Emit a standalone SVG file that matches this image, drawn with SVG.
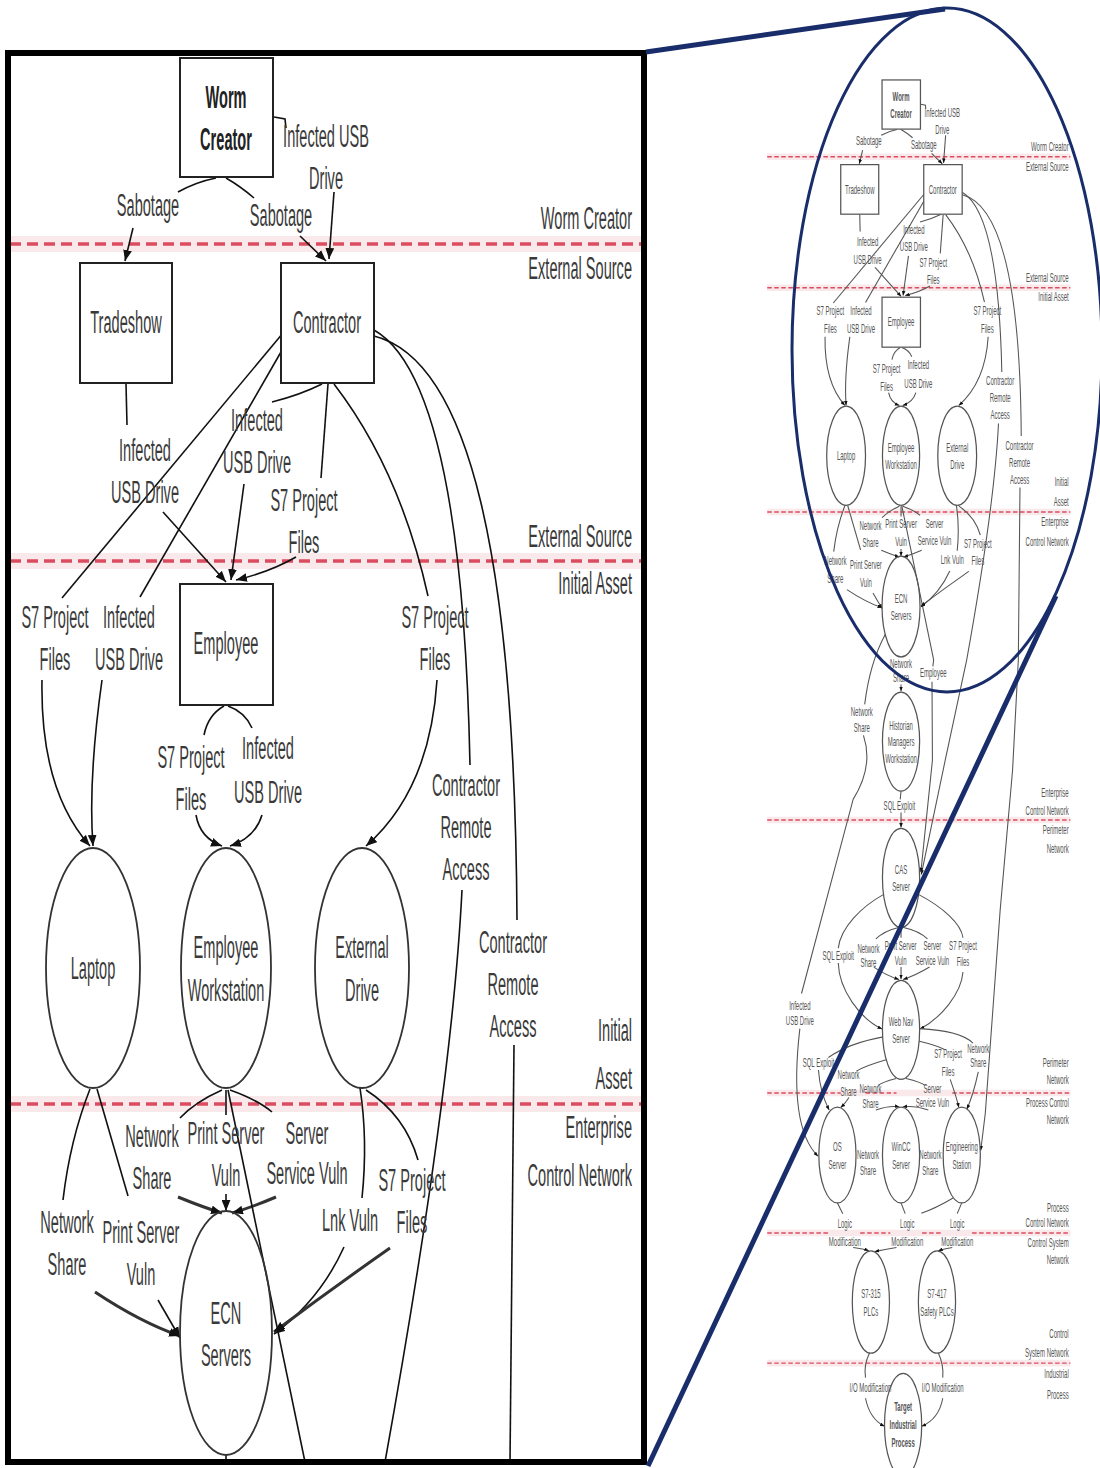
<svg xmlns="http://www.w3.org/2000/svg" width="1100" height="1468" viewBox="0 0 1100 1468">
<defs>
<marker id="ah" viewBox="0 0 10 8" refX="10" refY="4" markerWidth="11" markerHeight="9" markerUnits="userSpaceOnUse" orient="auto">
<path d="M0,0 L10,4 L0,8 z" fill="#111"/>
</marker>
<clipPath id="frameClip"><rect x="8" y="53" width="636" height="1409"/></clipPath>
</defs>
<style>
text{font-family:"Liberation Sans",Arial,sans-serif;font-size:31px;fill:#3a3a3a;text-anchor:middle}
.lv{text-anchor:end}
.bold{font-weight:bold;fill:#222}
.nb{fill:#fff;stroke:#222;stroke-width:2}
.ne{fill:#fff;stroke:#333;stroke-width:1.8}
.cn{fill:none;stroke:#111;stroke-width:1.6}
.thk{stroke-width:3;stroke:#333}
.halo{stroke:#f4cfd5;stroke-width:16;opacity:.45}
.dash{stroke:#dc4c60;stroke-width:3.5;stroke-dasharray:11 6}
.mini .cn{stroke:#555;stroke-width:2.6}
.mini .nb,.mini .ne{stroke:#555;stroke-width:3}
.mini text{fill:#555}
.navy{fill:none;stroke:#1a2d6b}
</style>
<rect width="1100" height="1468" fill="#fff"/>

<!-- ===== zoomed panel ===== -->
<g id="zoom-panel" clip-path="url(#frameClip)">
<g id="levels">
<line class="halo" x1="10" y1="244" x2="642" y2="244"/>
<line class="halo" x1="10" y1="561" x2="642" y2="561"/>
<line class="halo" x1="10" y1="1104" x2="642" y2="1104"/>
<line class="dash" x1="10" y1="244" x2="642" y2="244"/>
<line class="dash" x1="10" y1="561" x2="642" y2="561"/>
<line class="dash" x1="10" y1="1104" x2="642" y2="1104"/>
<text class="lv" transform="translate(632 229) scale(.47 1)">Worm Creator</text>
<text class="lv" transform="translate(632 279) scale(.47 1)">External Source</text>
<text class="lv" transform="translate(632 547) scale(.47 1)">External Source</text>
<text class="lv" transform="translate(632 594) scale(.47 1)">Initial Asset</text>
<text class="lv" transform="translate(632 1041) scale(.47 1)"><tspan x="0">Initial</tspan><tspan x="0" dy="48">Asset</tspan><tspan x="0" dy="49">Enterprise</tspan><tspan x="0" dy="48">Control Network</tspan></text>
</g>

<g id="connectors">
<path class="cn" d="M216,178 Q196,182 178,192"/>
<path class="cn" marker-end="url(#ah)" d="M133,228 L125,261"/>
<path class="cn" d="M226,178 Q240,186 254,198"/>
<path class="cn" marker-end="url(#ah)" d="M300,236 L326,261"/>
<path class="cn" d="M274,117 L285,119 L286,128"/>
<path class="cn" marker-end="url(#ah)" d="M334,192 L329,259"/>
<path class="cn" d="M126,384 L127,425"/>
<path class="cn" marker-end="url(#ah)" d="M163,512 L226,582"/>
<path class="cn" d="M322,384 Q300,395 272,402"/>
<path class="cn" marker-end="url(#ah)" d="M244,484 L231,580"/>
<path class="cn" d="M328,384 L321,478"/>
<path class="cn" marker-end="url(#ah)" d="M296,557 Q270,572 236,580"/>
<path class="cn" d="M283,333 L62,598"/>
<path class="cn" marker-end="url(#ah)" d="M42,680 Q40,790 90,846"/>
<path class="cn" d="M285,345 L140,597"/>
<path class="cn" marker-end="url(#ah)" d="M102,680 Q88,780 93,846"/>
<path class="cn" d="M334,384 Q400,470 428,596"/>
<path class="cn" marker-end="url(#ah)" d="M437,680 Q430,790 366,846"/>
<path class="cn" d="M374,330 Q462,380 470,765"/>
<path class="cn" d="M462,890 Q452,1090 385,1462"/>
<path class="cn" d="M374,336 C470,360 515,560 517,920"/>
<path class="cn" d="M514,1045 L510,1462"/>
<path class="cn" d="M224,706 Q208,715 204,735"/>
<path class="cn" d="M228,706 Q245,712 252,728"/>
<path class="cn" marker-end="url(#ah)" d="M196,815 Q200,838 222,846"/>
<path class="cn" marker-end="url(#ah)" d="M262,815 Q255,838 230,846"/>
<path class="cn" d="M90,1089 Q70,1140 63,1200"/>
<path class="cn" d="M97,1089 L128,1196"/>
<path class="cn thk" marker-end="url(#ah)" d="M95,1292 Q140,1322 180,1336"/>
<path class="cn" marker-end="url(#ah)" d="M158,1300 L180,1338"/>
<path class="cn" d="M222,1090 Q195,1102 180,1118"/>
<path class="cn" d="M226,1090 L226,1115"/>
<path class="cn" d="M230,1090 Q258,1100 272,1112"/>
<path class="cn thk" marker-end="url(#ah)" d="M178,1197 Q205,1208 222,1213"/>
<path class="cn" marker-end="url(#ah)" d="M226,1194 L226,1211"/>
<path class="cn thk" marker-end="url(#ah)" d="M276,1197 Q250,1208 232,1213"/>
<path class="cn" d="M228,1090 L305,1462"/>
<path class="cn" d="M360,1088 Q368,1140 362,1198"/>
<path class="cn" d="M366,1090 Q405,1115 418,1160"/>
<path class="cn" marker-end="url(#ah)" d="M344,1247 Q320,1300 274,1334"/>
<path class="cn thk" marker-end="url(#ah)" d="M390,1248 Q330,1290 274,1332"/>
<path class="cn" d="M226,1455 L226,1462"/>
</g>

<g id="node-worm-creator"><rect class="nb" x="180" y="58" width="93" height="119"/>
<text class="bold" transform="translate(226 108) scale(.47 1)"><tspan x="0">Worm</tspan><tspan x="0" dy="42">Creator</tspan></text></g>
<g id="node-tradeshow"><rect class="nb" x="80" y="263" width="92" height="120"/>
<text transform="translate(126 333) scale(.47 1)">Tradeshow</text></g>
<g id="node-contractor"><rect class="nb" x="281" y="263" width="93" height="120"/>
<text transform="translate(327 333) scale(.47 1)">Contractor</text></g>
<g id="node-employee"><rect class="nb" x="180" y="584" width="93" height="121"/>
<text transform="translate(226 654) scale(.47 1)">Employee</text></g>
<g id="node-laptop"><ellipse class="ne" cx="93" cy="968" rx="47" ry="120"/>
<text transform="translate(93 979) scale(.47 1)">Laptop</text></g>
<g id="node-employee-workstation"><ellipse class="ne" cx="226" cy="968" rx="45" ry="120"/>
<text transform="translate(226 958) scale(.47 1)"><tspan x="0">Employee</tspan><tspan x="0" dy="43">Workstation</tspan></text></g>
<g id="node-external-drive"><ellipse class="ne" cx="362" cy="968" rx="47" ry="120"/>
<text transform="translate(362 958) scale(.47 1)"><tspan x="0">External</tspan><tspan x="0" dy="43">Drive</tspan></text></g>
<g id="node-ecn-servers"><ellipse class="ne" cx="226" cy="1333" rx="46" ry="122" fill="none" style="fill:none"/>
<text transform="translate(226 1324) scale(.47 1)"><tspan x="0">ECN</tspan><tspan x="0" dy="42">Servers</tspan></text></g>

<g id="edge-labels">
<text transform="translate(326 147) scale(.47 1)"><tspan x="0">Infected USB</tspan><tspan x="0" dy="42">Drive</tspan></text>
<text transform="translate(148 216) scale(.47 1)">Sabotage</text>
<text transform="translate(281 226) scale(.47 1)">Sabotage</text>
<text transform="translate(145 461) scale(.47 1)"><tspan x="0">Infected</tspan><tspan x="0" dy="42">USB Drive</tspan></text>
<text transform="translate(257 431) scale(.47 1)"><tspan x="0">Infected</tspan><tspan x="0" dy="42">USB Drive</tspan></text>
<text transform="translate(304 511) scale(.47 1)"><tspan x="0">S7 Project</tspan><tspan x="0" dy="42">Files</tspan></text>
<text transform="translate(55 628) scale(.47 1)"><tspan x="0">S7 Project</tspan><tspan x="0" dy="42">Files</tspan></text>
<text transform="translate(129 628) scale(.47 1)"><tspan x="0">Infected</tspan><tspan x="0" dy="42">USB Drive</tspan></text>
<text transform="translate(435 628) scale(.47 1)"><tspan x="0">S7 Project</tspan><tspan x="0" dy="42">Files</tspan></text>
<text transform="translate(191 768) scale(.47 1)"><tspan x="0">S7 Project</tspan><tspan x="0" dy="42">Files</tspan></text>
<text transform="translate(268 759) scale(.47 1)"><tspan x="0">Infected</tspan><tspan x="0" dy="44">USB Drive</tspan></text>
<text transform="translate(466 796) scale(.47 1)"><tspan x="0">Contractor</tspan><tspan x="0" dy="42">Remote</tspan><tspan x="0" dy="42">Access</tspan></text>
<text transform="translate(513 953) scale(.47 1)"><tspan x="0">Contractor</tspan><tspan x="0" dy="42">Remote</tspan><tspan x="0" dy="42">Access</tspan></text>
<text transform="translate(152 1147) scale(.47 1)"><tspan x="0">Network</tspan><tspan x="0" dy="42">Share</tspan></text>
<text transform="translate(226 1144) scale(.47 1)"><tspan x="0">Print Server</tspan><tspan x="0" dy="42">Vuln</tspan></text>
<text transform="translate(307 1144) scale(.47 1)"><tspan x="0">Server</tspan><tspan x="0" dy="40">Service Vuln</tspan></text>
<text transform="translate(412 1191) scale(.47 1)"><tspan x="0">S7 Project</tspan><tspan x="0" dy="42">Files</tspan></text>
<text transform="translate(350 1231) scale(.47 1)">Lnk Vuln</text>
<text transform="translate(67 1233) scale(.47 1)"><tspan x="0">Network</tspan><tspan x="0" dy="42">Share</tspan></text>
<text transform="translate(141 1243) scale(.47 1)"><tspan x="0">Print Server</tspan><tspan x="0" dy="42">Vuln</tspan></text>
</g>
</g>
<rect id="zoom-frame" x="8" y="53" width="636" height="1409" fill="none" stroke="#000" stroke-width="6"/>

<!-- ===== full overview graph ===== -->
<g id="overview" class="mini" transform="translate(807.7 56) scale(0.413)">
<g id="m-levels">
<g>
<line class="halo" x1="-98" y1="244" x2="636" y2="244"/>
<line class="halo" x1="-98" y1="561" x2="636" y2="561"/>
<line class="halo" x1="-98" y1="1104" x2="636" y2="1104"/>
<line class="halo" x1="-98" y1="1850" x2="636" y2="1850"/>
<line class="halo" x1="-98" y1="2511" x2="636" y2="2511"/>
<line class="halo" x1="-98" y1="2850" x2="636" y2="2850"/>
<line class="halo" x1="-98" y1="3165" x2="636" y2="3165"/>
</g>
<line class="dash" x1="-98" y1="244" x2="636" y2="244"/>
<line class="dash" x1="-98" y1="561" x2="636" y2="561"/>
<line class="dash" x1="-98" y1="1104" x2="636" y2="1104"/>
<line class="dash" x1="-98" y1="1850" x2="636" y2="1850"/>
<path class="dash" d="M-98,2511 H80 M140,2511 H215 M350,2511 H636"/>
<path class="dash" d="M-98,2850 H50 M127,2850 H200 M277,2850 H328 M398,2850 H636"/>
<line class="dash" x1="-98" y1="3165" x2="636" y2="3165"/>
<text class="lv" transform="translate(632 229) scale(.47 1)">Worm Creator</text>
<text class="lv" transform="translate(632 279) scale(.47 1)">External Source</text>
<text class="lv" transform="translate(632 547) scale(.47 1)">External Source</text>
<text class="lv" transform="translate(632 594) scale(.47 1)">Initial Asset</text>
<text class="lv" transform="translate(632 1041) scale(.47 1)"><tspan x="0">Initial</tspan><tspan x="0" dy="48">Asset</tspan><tspan x="0" dy="49">Enterprise</tspan><tspan x="0" dy="48">Control Network</tspan></text>
<text class="lv" transform="translate(632 1793) scale(.47 1)"><tspan x="0">Enterprise</tspan><tspan x="0" dy="44">Control Network</tspan><tspan x="0" dy="48">Perimeter</tspan><tspan x="0" dy="44">Network</tspan></text>
<text class="lv" transform="translate(632 2447) scale(.47 1)"><tspan x="0">Perimeter</tspan><tspan x="0" dy="43">Network</tspan><tspan x="0" dy="54">Process Control</tspan><tspan x="0" dy="43">Network</tspan></text>
<text class="lv" transform="translate(632 2800) scale(.47 1)"><tspan x="0">Process</tspan><tspan x="0" dy="36">Control Network</tspan><tspan x="0" dy="47">Control System</tspan><tspan x="0" dy="43">Network</tspan></text>
<text class="lv" transform="translate(632 3103) scale(.47 1)"><tspan x="0">Control</tspan><tspan x="0" dy="48">System Network</tspan><tspan x="0" dy="49">Industrial</tspan><tspan x="0" dy="53">Process</tspan></text>
</g>

<g id="m-connectors">
<path class="cn" d="M216,178 Q196,182 178,192"/>
<path class="cn" marker-end="url(#ah)" d="M133,228 L125,261"/>
<path class="cn" d="M226,178 Q240,186 254,198"/>
<path class="cn" marker-end="url(#ah)" d="M300,236 L326,261"/>
<path class="cn" d="M274,117 L285,119 L286,128"/>
<path class="cn" marker-end="url(#ah)" d="M334,192 L329,259"/>
<path class="cn" d="M126,384 L127,425"/>
<path class="cn" marker-end="url(#ah)" d="M163,512 L226,582"/>
<path class="cn" d="M322,384 Q300,395 272,402"/>
<path class="cn" marker-end="url(#ah)" d="M244,484 L231,580"/>
<path class="cn" d="M328,384 L321,478"/>
<path class="cn" marker-end="url(#ah)" d="M296,557 Q270,572 236,580"/>
<path class="cn" d="M283,333 L62,598"/>
<path class="cn" marker-end="url(#ah)" d="M42,680 Q40,790 90,846"/>
<path class="cn" d="M285,345 L140,597"/>
<path class="cn" marker-end="url(#ah)" d="M102,680 Q88,780 93,846"/>
<path class="cn" d="M334,384 Q400,470 428,596"/>
<path class="cn" marker-end="url(#ah)" d="M437,680 Q430,790 366,846"/>
<path class="cn" d="M374,330 Q462,380 470,765"/>
<path class="cn" marker-end="url(#ah)" d="M462,890 Q452,1090 385,1462 L333,1705 L275,1982"/>
<path class="cn" d="M374,336 C470,360 515,560 517,920"/>
<path class="cn" marker-end="url(#ah)" d="M514,1045 L510,1462 L496,1730 L466,2068 L430,2560 L419,2650"/>
<path class="cn" d="M224,706 Q208,715 204,735"/>
<path class="cn" d="M228,706 Q245,712 252,728"/>
<path class="cn" marker-end="url(#ah)" d="M196,815 Q200,838 222,846"/>
<path class="cn" marker-end="url(#ah)" d="M262,815 Q255,838 230,846"/>
<path class="cn" d="M90,1089 Q70,1140 63,1200"/>
<path class="cn" d="M97,1089 L128,1196"/>
<path class="cn" marker-end="url(#ah)" d="M95,1292 Q140,1322 180,1336"/>
<path class="cn" marker-end="url(#ah)" d="M158,1300 L180,1338"/>
<path class="cn" d="M222,1090 Q195,1102 180,1118"/>
<path class="cn" d="M226,1090 L226,1115"/>
<path class="cn" d="M230,1090 Q258,1100 272,1112"/>
<path class="cn" marker-end="url(#ah)" d="M178,1197 Q205,1208 222,1213"/>
<path class="cn" marker-end="url(#ah)" d="M226,1194 L226,1211"/>
<path class="cn" marker-end="url(#ah)" d="M276,1197 Q250,1208 232,1213"/>
<path class="cn" d="M228,1090 L305,1462 L303,1478"/>
<path class="cn" marker-end="url(#ah)" d="M301,1515 L302,1705 L274,1976"/>
<path class="cn" d="M360,1088 Q368,1140 362,1198"/>
<path class="cn" d="M366,1090 Q405,1115 418,1160"/>
<path class="cn" marker-end="url(#ah)" d="M344,1247 Q320,1300 274,1334"/>
<path class="cn" marker-end="url(#ah)" d="M390,1248 Q330,1290 274,1332"/>
<path class="cn" d="M226,1455 L226,1456"/>
<path class="cn" marker-end="url(#ah)" d="M226,1522 L226,1538"/>
<path class="cn" d="M188,1400 Q150,1470 138,1570"/>
<path class="cn" d="M135,1645 Q160,1720 110,1800 L-15,2270"/>
<path class="cn" marker-end="url(#ah)" d="M-19,2355 C-30,2450 -40,2600 25,2664"/>
<path class="cn" d="M226,1780 L224,1800"/>
<path class="cn" marker-end="url(#ah)" d="M226,1832 L226,1868"/>
<path class="cn" d="M220,2110 Q185,2118 165,2138"/>
<path class="cn" d="M226,2110 L226,2135"/>
<path class="cn" d="M232,2110 Q270,2118 290,2138"/>
<path class="cn" marker-end="url(#ah)" d="M160,2206 Q190,2226 221,2236"/>
<path class="cn" marker-end="url(#ah)" d="M226,2206 L226,2235"/>
<path class="cn" marker-end="url(#ah)" d="M295,2206 Q262,2226 231,2236"/>
<path class="cn" d="M184,2030 C130,2060 80,2110 74,2160"/>
<path class="cn" marker-end="url(#ah)" d="M74,2196 C76,2260 125,2330 180,2356"/>
<path class="cn" d="M268,2030 C325,2060 372,2100 376,2135"/>
<path class="cn" marker-end="url(#ah)" d="M376,2218 C372,2270 322,2330 272,2356"/>
<path class="cn" d="M183,2375 Q100,2390 50,2425"/>
<path class="cn" marker-end="url(#ah)" d="M26,2455 Q30,2510 52,2552"/>
<path class="cn" d="M192,2430 Q140,2445 118,2458"/>
<path class="cn" marker-end="url(#ah)" d="M100,2522 Q92,2535 80,2546"/>
<path class="cn" d="M214,2476 Q180,2485 170,2493"/>
<path class="cn" d="M238,2476 Q275,2485 285,2493"/>
<path class="cn" marker-end="url(#ah)" d="M165,2552 Q200,2540 222,2545"/>
<path class="cn" marker-end="url(#ah)" d="M292,2552 Q255,2540 230,2545"/>
<path class="cn" d="M268,2385 Q310,2395 330,2405"/>
<path class="cn" marker-end="url(#ah)" d="M345,2478 Q360,2520 366,2546"/>
<path class="cn" d="M271,2355 Q370,2360 400,2390"/>
<path class="cn" marker-end="url(#ah)" d="M413,2460 Q400,2520 385,2550"/>
<path class="cn" d="M72,2777 L85,2803"/>
<path class="cn" marker-end="url(#ah)" d="M110,2885 Q135,2888 148,2893"/>
<path class="cn" d="M226,2777 L236,2803"/>
<path class="cn" marker-end="url(#ah)" d="M215,2885 Q185,2890 162,2895"/>
<path class="cn" d="M373,2777 L362,2803"/>
<path class="cn" marker-end="url(#ah)" d="M350,2885 Q330,2888 316,2893"/>
<path class="cn" d="M352,2765 Q310,2790 275,2802"/>
<path class="cn" d="M150,3140 Q135,3170 140,3200"/>
<path class="cn" marker-end="url(#ah)" d="M140,3250 Q150,3300 186,3318"/>
<path class="cn" d="M316,3140 Q330,3170 327,3200"/>
<path class="cn" marker-end="url(#ah)" d="M327,3250 Q318,3300 276,3318"/>
</g>

<g id="m-node-worm-creator"><rect class="nb" x="180" y="58" width="93" height="119"/>
<text class="bold" transform="translate(226 108) scale(.47 1)"><tspan x="0">Worm</tspan><tspan x="0" dy="42">Creator</tspan></text></g>
<g id="m-node-tradeshow"><rect class="nb" x="80" y="263" width="92" height="120"/>
<text transform="translate(126 333) scale(.47 1)">Tradeshow</text></g>
<g id="m-node-contractor"><rect class="nb" x="281" y="263" width="93" height="120"/>
<text transform="translate(327 333) scale(.47 1)">Contractor</text></g>
<g id="m-node-employee"><rect class="nb" x="180" y="584" width="93" height="121"/>
<text transform="translate(226 654) scale(.47 1)">Employee</text></g>
<g id="m-node-laptop"><ellipse class="ne" cx="93" cy="968" rx="47" ry="120"/>
<text transform="translate(93 979) scale(.47 1)">Laptop</text></g>
<g id="m-node-employee-workstation"><ellipse class="ne" cx="226" cy="968" rx="45" ry="120"/>
<text transform="translate(226 958) scale(.47 1)"><tspan x="0">Employee</tspan><tspan x="0" dy="43">Workstation</tspan></text></g>
<g id="m-node-external-drive"><ellipse class="ne" cx="362" cy="968" rx="47" ry="120"/>
<text transform="translate(362 958) scale(.47 1)"><tspan x="0">External</tspan><tspan x="0" dy="43">Drive</tspan></text></g>
<g id="m-node-ecn-servers"><ellipse class="ne" cx="226" cy="1333" rx="46" ry="122" style="fill:none"/>
<text transform="translate(226 1324) scale(.47 1)"><tspan x="0">ECN</tspan><tspan x="0" dy="42">Servers</tspan></text></g>
<g id="m-node-historian"><ellipse class="ne" cx="226" cy="1660" rx="45" ry="120"/>
<text transform="translate(226 1631) scale(.47 1)"><tspan x="0">Historian</tspan><tspan x="0" dy="40">Managers</tspan><tspan x="0" dy="40">Workstation</tspan></text></g>
<g id="m-node-cas-server"><ellipse class="ne" cx="226" cy="1990" rx="45" ry="120"/>
<text transform="translate(226 1981) scale(.47 1)"><tspan x="0">CAS</tspan><tspan x="0" dy="42">Server</tspan></text></g>
<g id="m-node-web-nav-server"><ellipse class="ne" cx="226" cy="2358" rx="45" ry="120"/>
<text transform="translate(226 2349) scale(.47 1)"><tspan x="0">Web Nav</tspan><tspan x="0" dy="42">Server</tspan></text></g>
<g id="m-node-os-server"><ellipse class="ne" cx="72" cy="2661" rx="45" ry="116"/>
<text transform="translate(72 2652) scale(.47 1)"><tspan x="0">OS</tspan><tspan x="0" dy="42">Server</tspan></text></g>
<g id="m-node-wincc-server"><ellipse class="ne" cx="226" cy="2661" rx="45" ry="116"/>
<text transform="translate(226 2652) scale(.47 1)"><tspan x="0">WinCC</tspan><tspan x="0" dy="42">Server</tspan></text></g>
<g id="m-node-engineering-station"><ellipse class="ne" cx="373" cy="2661" rx="45" ry="116"/>
<text transform="translate(373 2652) scale(.47 1)"><tspan x="0">Engineering</tspan><tspan x="0" dy="42">Station</tspan></text></g>
<g id="m-node-s7-315"><ellipse class="ne" cx="153" cy="3017" rx="45" ry="124"/>
<text transform="translate(153 3008) scale(.47 1)"><tspan x="0">S7-315</tspan><tspan x="0" dy="42">PLCs</tspan></text></g>
<g id="m-node-s7-417"><ellipse class="ne" cx="313" cy="3017" rx="45" ry="124"/>
<text transform="translate(313 3008) scale(.47 1)"><tspan x="0">S7-417</tspan><tspan x="0" dy="42">Safety PLCs</tspan></text></g>
<g id="m-node-target"><ellipse class="ne" cx="231" cy="3315" rx="45" ry="125"/>
<text class="bold" transform="translate(231 3282) scale(.47 1)"><tspan x="0">Target</tspan><tspan x="0" dy="42">Industrial</tspan><tspan x="0" dy="45">Process</tspan></text></g>

<g id="m-edge-labels">
<text transform="translate(326 147) scale(.47 1)"><tspan x="0">Infected USB</tspan><tspan x="0" dy="42">Drive</tspan></text>
<text transform="translate(148 216) scale(.47 1)">Sabotage</text>
<text transform="translate(281 226) scale(.47 1)">Sabotage</text>
<text transform="translate(145 461) scale(.47 1)"><tspan x="0">Infected</tspan><tspan x="0" dy="42">USB Drive</tspan></text>
<text transform="translate(257 431) scale(.47 1)"><tspan x="0">Infected</tspan><tspan x="0" dy="42">USB Drive</tspan></text>
<text transform="translate(304 511) scale(.47 1)"><tspan x="0">S7 Project</tspan><tspan x="0" dy="42">Files</tspan></text>
<text transform="translate(55 628) scale(.47 1)"><tspan x="0">S7 Project</tspan><tspan x="0" dy="42">Files</tspan></text>
<text transform="translate(129 628) scale(.47 1)"><tspan x="0">Infected</tspan><tspan x="0" dy="42">USB Drive</tspan></text>
<text transform="translate(435 628) scale(.47 1)"><tspan x="0">S7 Project</tspan><tspan x="0" dy="42">Files</tspan></text>
<text transform="translate(191 768) scale(.47 1)"><tspan x="0">S7 Project</tspan><tspan x="0" dy="42">Files</tspan></text>
<text transform="translate(268 759) scale(.47 1)"><tspan x="0">Infected</tspan><tspan x="0" dy="44">USB Drive</tspan></text>
<text transform="translate(466 796) scale(.47 1)"><tspan x="0">Contractor</tspan><tspan x="0" dy="42">Remote</tspan><tspan x="0" dy="42">Access</tspan></text>
<text transform="translate(513 953) scale(.47 1)"><tspan x="0">Contractor</tspan><tspan x="0" dy="42">Remote</tspan><tspan x="0" dy="42">Access</tspan></text>
<text transform="translate(152 1147) scale(.47 1)"><tspan x="0">Network</tspan><tspan x="0" dy="42">Share</tspan></text>
<text transform="translate(226 1144) scale(.47 1)"><tspan x="0">Print Server</tspan><tspan x="0" dy="42">Vuln</tspan></text>
<text transform="translate(307 1144) scale(.47 1)"><tspan x="0">Server</tspan><tspan x="0" dy="40">Service Vuln</tspan></text>
<text transform="translate(412 1191) scale(.47 1)"><tspan x="0">S7 Project</tspan><tspan x="0" dy="42">Files</tspan></text>
<text transform="translate(350 1231) scale(.47 1)">Lnk Vuln</text>
<text transform="translate(67 1233) scale(.47 1)"><tspan x="0">Network</tspan><tspan x="0" dy="42">Share</tspan></text>
<text transform="translate(141 1243) scale(.47 1)"><tspan x="0">Print Server</tspan><tspan x="0" dy="42">Vuln</tspan></text>
<text transform="translate(226 1482) scale(.47 1)"><tspan x="0">Network</tspan><tspan x="0" dy="34">Share</tspan></text>
<text transform="translate(304 1503) scale(.47 1)">Employee</text>
<text transform="translate(131 1599) scale(.47 1)"><tspan x="0">Network</tspan><tspan x="0" dy="38">Share</tspan></text>
<text transform="translate(222 1825) scale(.47 1)">SQL Exploit</text>
<text transform="translate(-19 2309) scale(.47 1)"><tspan x="0">Infected</tspan><tspan x="0" dy="38">USB Drive</tspan></text>
<text transform="translate(74 2188) scale(.47 1)">SQL Exploit</text>
<text transform="translate(147 2171) scale(.47 1)"><tspan x="0">Network</tspan><tspan x="0" dy="36">Share</tspan></text>
<text transform="translate(225 2164) scale(.47 1)"><tspan x="0">Print Server</tspan><tspan x="0" dy="36">Vuln</tspan></text>
<text transform="translate(302 2164) scale(.47 1)"><tspan x="0">Server</tspan><tspan x="0" dy="36">Service Vuln</tspan></text>
<text transform="translate(376 2164) scale(.47 1)"><tspan x="0">S7 Project</tspan><tspan x="0" dy="40">Files</tspan></text>
<text transform="translate(26 2447) scale(.47 1)">SQL Exploit</text>
<text transform="translate(99 2478) scale(.47 1)"><tspan x="0">Network</tspan><tspan x="0" dy="40">Share</tspan></text>
<text transform="translate(152 2510) scale(.47 1)"><tspan x="0">Network</tspan><tspan x="0" dy="38">Share</tspan></text>
<text transform="translate(302 2510) scale(.47 1)"><tspan x="0">Server</tspan><tspan x="0" dy="36">Service Vuln</tspan></text>
<text transform="translate(340 2425) scale(.47 1)"><tspan x="0">S7 Project</tspan><tspan x="0" dy="44">Files</tspan></text>
<text transform="translate(413 2413) scale(.47 1)"><tspan x="0">Network</tspan><tspan x="0" dy="36">Share</tspan></text>
<text transform="translate(146 2671) scale(.47 1)"><tspan x="0">Network</tspan><tspan x="0" dy="38">Share</tspan></text>
<text transform="translate(297 2671) scale(.47 1)"><tspan x="0">Network</tspan><tspan x="0" dy="38">Share</tspan></text>
<text transform="translate(90 2837) scale(.47 1)"><tspan x="0">Logic</tspan><tspan x="0" dy="44">Modification</tspan></text>
<text transform="translate(241 2837) scale(.47 1)"><tspan x="0">Logic</tspan><tspan x="0" dy="44">Modification</tspan></text>
<text transform="translate(362 2837) scale(.47 1)"><tspan x="0">Logic</tspan><tspan x="0" dy="44">Modification</tspan></text>
<text transform="translate(152 3234) scale(.47 1)">I/O Modification</text>
<text transform="translate(327 3234) scale(.47 1)">I/O Modification</text>
</g>
</g>

<!-- magnifier outline and guide lines -->
<g id="magnifier">
<ellipse class="navy" cx="947" cy="350" rx="155" ry="342" stroke-width="3"/>
<line class="navy" x1="646" y1="52" x2="945" y2="9" stroke-width="5"/>
<line class="navy" x1="648" y1="1466" x2="1056" y2="596" stroke-width="5"/>
</g>
</svg>
